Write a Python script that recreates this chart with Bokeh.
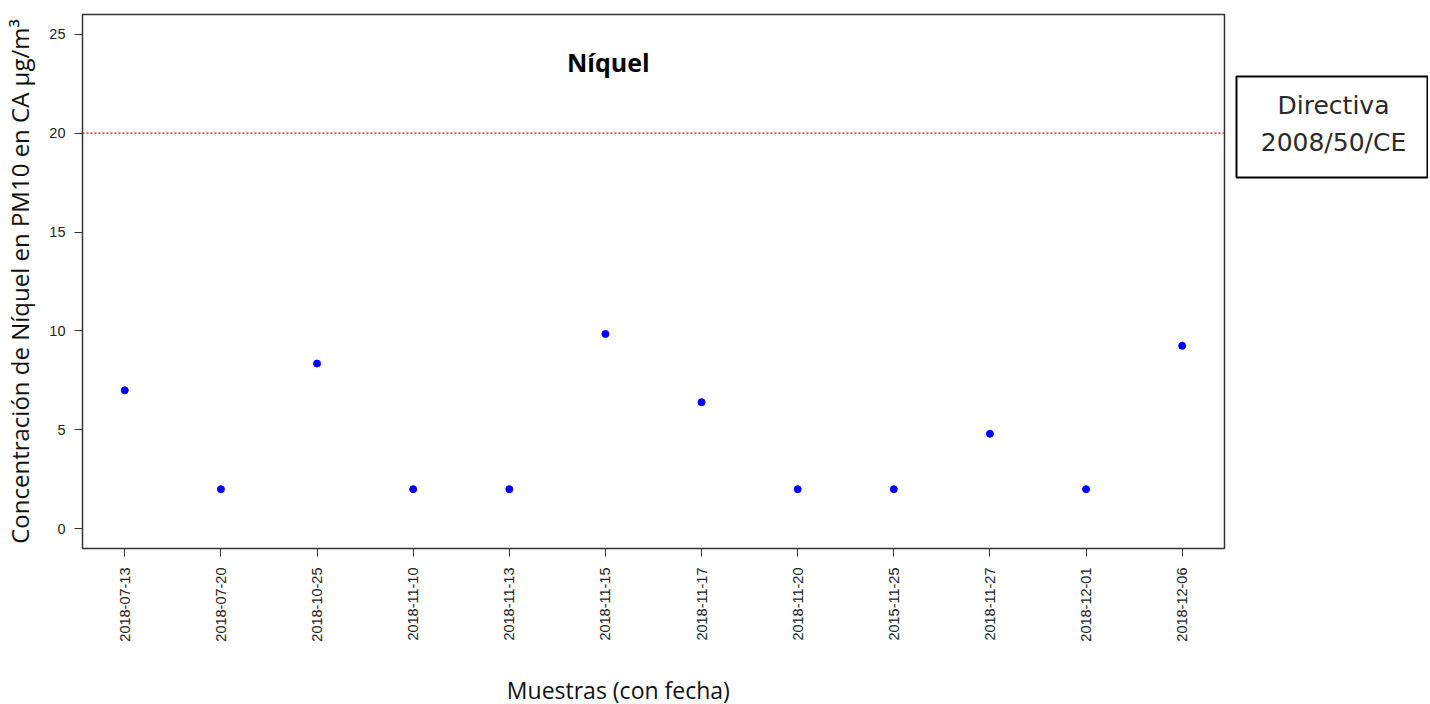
import math
from bokeh.plotting import figure
from bokeh.models import Span, Label, FixedTicker
from bokeh.layouts import row, column
from bokeh.core.properties import value
from bokeh.embed import file_html
from bokeh.resources import INLINE

fechas = ["2018-07-13", "2018-07-20", "2018-10-25", "2018-11-10", "2018-11-13", "2018-11-15",
          "2018-11-17", "2018-11-20", "2015-11-25", "2018-11-27", "2018-12-01", "2018-12-06"]
niquel = [7.0, 2.0, 8.35, 2.0, 2.0, 9.85, 6.4, 2.0, 2.0, 4.8, 2.0, 9.25]
limite = 20
y_ticks = [0, 5, 10, 15, 20, 25]
leyenda = ["Directiva", "2008/50/CE"]
titulo_x = "Muestras (con fecha)"

xs = list(range(1, len(fechas) + 1))

H_MAIN = 652
p = figure(width=1230, height=H_MAIN, output_backend="svg", toolbar_location=None,
           x_range=(0.56, 12.44), y_range=(-1, 26),
           min_border_left=81, min_border_top=14, min_border_right=6,
           min_border_bottom=H_MAIN - 548)

p.xgrid.visible = False
p.ygrid.visible = False
p.outline_line_color = "#333333"
p.outline_line_width = 1.5
p.background_fill_color = "white"
p.border_fill_color = "white"

for ax in (p.xaxis[0], p.yaxis[0]):
    ax.axis_line_color = None
    ax.major_tick_out = 8
    ax.major_tick_in = 0
    ax.minor_tick_line_color = None
    ax.major_tick_line_color = "#333333"
    ax.major_label_text_font = "Liberation Sans"
    ax.major_label_text_font_size = "14.5px"
    ax.major_label_text_color = "#222222"

p.xaxis.ticker = FixedTicker(ticks=xs)
p.xaxis.major_label_overrides = {x: f for x, f in zip(xs, fechas)}
p.xaxis.major_label_orientation = math.pi / 2
p.xaxis.major_label_standoff = 11

p.yaxis.ticker = FixedTicker(ticks=y_ticks)
p.yaxis.major_label_standoff = 9
p.yaxis.axis_label = "Concentración de Níquel en PM10 en CA μg/m³"
p.yaxis.axis_label_text_font = "Open Sans"
p.yaxis.axis_label_text_font_style = "normal"
p.yaxis.axis_label_text_font_size = "24px"
p.yaxis.axis_label_text_color = "#111111"
p.yaxis.axis_label_standoff = 10

p.add_layout(Span(location=limite, dimension="width", line_color="red",
                  line_dash="2 2", line_width=1.2))

p.scatter(xs, niquel, size=7, color="#0000ff", marker="circle")

p.add_layout(Label(x=6.03, y=23.6, text="Níquel", text_align="center", text_baseline="middle",
                   text_font="Open Sans", text_font_style="bold", text_font_size="25px",
                   text_color="black"))

# side panel with the legend box (frame aligned with the main frame: page pixels 14..548)
p2 = figure(width=198, height=H_MAIN, output_backend="svg", toolbar_location=None,
            x_range=(0, 198), y_range=(548, 14),
            min_border_left=0, min_border_right=0, min_border_top=14,
            min_border_bottom=H_MAIN - 548)
p2.axis.visible = False
p2.grid.visible = False
p2.outline_line_color = None
p2.quad(left=[6], right=[197], top=[76], bottom=[177], fill_color="white",
        line_color="black", line_width=2)
p2.text(x=[103, 103], y=[105, 142], text=leyenda, text_align="center",
        text_baseline="middle", text_font=value("DejaVu Sans"), text_font_size="25px",
        text_color="#2a2a2a")

# strip under the main plot with the x-axis title
H_X = 52
p3 = figure(width=1230, height=H_X, output_backend="svg", toolbar_location=None,
            x_range=p.x_range, y_range=(H_X, 0),
            min_border_left=81, min_border_right=6, min_border_top=0, min_border_bottom=0)
p3.axis.visible = False
p3.grid.visible = False
p3.outline_line_color = None
p3.text(x=[6.14], y=[37], text=[titulo_x], text_align="center", text_baseline="middle",
        text_font=value("Open Sans"), text_font_size="23px", text_color="#111111")

layout = column(row(p, p2, spacing=0), p3, spacing=0)
open("out.html", "w").write(file_html(layout, INLINE))
